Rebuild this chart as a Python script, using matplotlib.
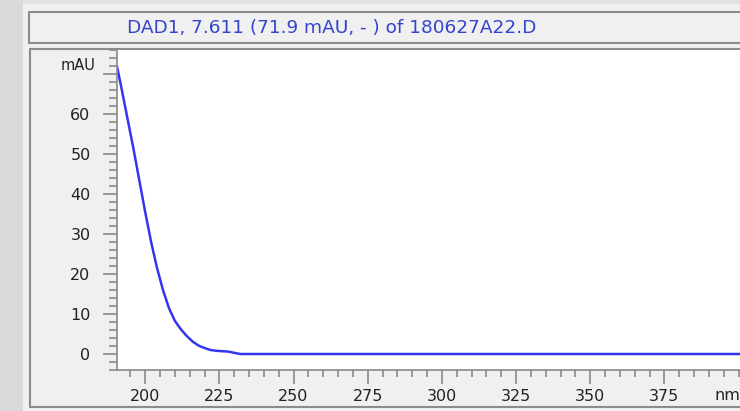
import matplotlib
matplotlib.use("Agg")
import matplotlib.pyplot as plt
from matplotlib.patches import Rectangle
from matplotlib.ticker import MultipleLocator, FixedLocator

# ---- data ----
title_text = "DAD1, 7.611 (71.9 mAU, - ) of 180627A22.D"
wavelength = [190.5, 192, 194, 196, 198, 200, 202, 204, 206, 208, 210, 212, 214,
              216, 218, 220, 222, 224, 226, 228, 230, 232, 250, 275, 300, 325,
              350, 375, 400, 400.5]
absorbance = [71.9, 66.5, 59.0, 51.5, 43.5, 35.5, 28.0, 21.5, 16.0, 11.5, 8.3,
              6.2, 4.5, 3.1, 2.1, 1.5, 1.0, 0.8, 0.7, 0.6, 0.3, 0.0, 0.0, 0.0,
              0.0, 0.0, 0.0, 0.0, 0.0, 0.0]
x_major = [200, 225, 250, 275, 300, 325, 350, 375]
x_labels = ["200", "225", "250", "275", "300", "325", "350", "375"]
y_major = [0, 10, 20, 30, 40, 50, 60, 70]
y_labels = ["0", "10", "20", "30", "40", "50", "60", ""]

W, H = 740, 411
fig = plt.figure(figsize=(W / 100, H / 100), dpi=100)
fig.patch.set_facecolor("#f0f0f0")

def px_rect(x0, y0, x1, y1, **kw):
    # pixel coords with y from top
    r = Rectangle((x0 / W, 1 - y1 / H), (x1 - x0) / W, (y1 - y0) / H,
                  transform=fig.transFigure, zorder=-5, **kw)
    fig.patches.append(r)

FONT = ["DejaVu Sans"]

# left darker strip
px_rect(0, 0, 23, H, facecolor="#dadada", edgecolor="none")
px_rect(23, 0, W, 4, facecolor="#e2e2e2", edgecolor="none")
# title box
px_rect(29, 12, W + 5, 43, facecolor="#f0f0f0", edgecolor="#8c8c8c", lw=1.5)
# plot box
px_rect(30, 49, W + 5, 407, facecolor="#f0f0f0", edgecolor="#8c8c8c", lw=1.5)

fig.text(127 / W, 1 - 28 / H, title_text, color="#3444cc", fontsize=13.3,
         family=FONT, ha="left", va="center")

ax_l, ax_r, ax_t, ax_b = 117, 740, 50, 370
ax = fig.add_axes([ax_l / W, 1 - ax_b / H, (ax_r - ax_l) / W, (ax_b - ax_t) / H])
ax.set_zorder(3)
ax.set_facecolor("white")
ax.plot(wavelength, absorbance, color="#3535f0", lw=1.8, solid_joinstyle="round")
ax.set_xlim(190.5, 400.5)
ax.set_ylim(-4, 76)

for s in ["top", "right"]:
    ax.spines[s].set_visible(False)
for s in ["left", "bottom"]:
    ax.spines[s].set_color("#8a8a8a")
    ax.spines[s].set_linewidth(1.2)

ax.xaxis.set_major_locator(FixedLocator(x_major))
ax.set_xticklabels(x_labels)
ax.xaxis.set_minor_locator(MultipleLocator(5))
ax.yaxis.set_major_locator(FixedLocator(y_major))
ax.set_yticklabels(y_labels)
ax.yaxis.set_minor_locator(MultipleLocator(2))

for lab in ax.get_xticklabels() + ax.get_yticklabels():
    lab.set_fontfamily(FONT)
    lab.set_fontsize(11.5)
    lab.set_color("#222222")

ax.tick_params(axis="y", which="major", length=10, width=1.2, color="#8a8a8a", pad=9)
ax.tick_params(axis="y", which="minor", length=6, width=1.2, color="#8a8a8a")
ax.tick_params(axis="x", which="major", length=10, width=1.2, color="#8a8a8a", pad=4)
ax.tick_params(axis="x", which="minor", length=5, width=1.2, color="#8a8a8a")

fig.text(61 / W, 1 - 66 / H, "mAU", fontsize=10.5, color="#222222",
         family=FONT, ha="left", va="center")
fig.text(715 / W, 1 - 395 / H, "nm", fontsize=11.5, color="#222222",
         family=FONT, ha="left", va="center")

fig.savefig("out.png", dpi=100, facecolor=fig.get_facecolor())
